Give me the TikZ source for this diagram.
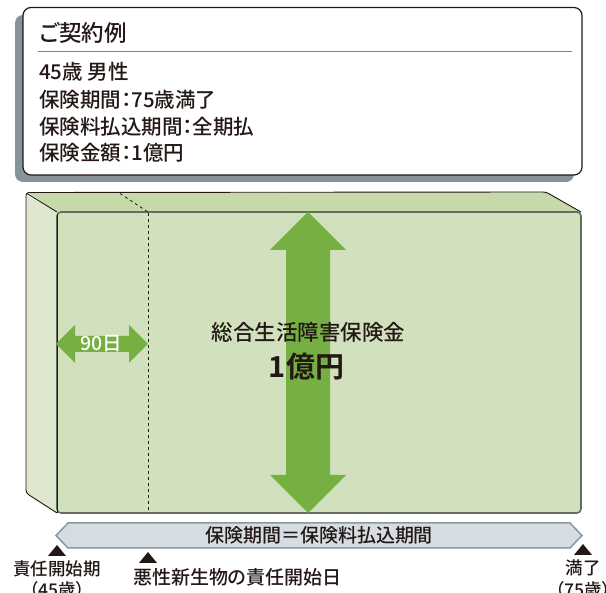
\documentclass[tikz,border=0pt]{standalone}
\usepackage{fontspec}
\setmainfont{Noto Sans CJK JP}[RawFeature=+palt, UprightFont={* Medium}, BoldFont={* Bold}]
\usetikzlibrary{positioning}
\definecolor{inktext}{HTML}{231815}
\definecolor{shadowgray}{HTML}{85939B}
\definecolor{topgreen}{HTML}{C5D9A9}
\definecolor{sidegreen}{HTML}{DDE8CF}
\definecolor{frontgreen}{HTML}{D2E1BD}
\definecolor{edgegreen}{HTML}{646D60}
\definecolor{arrowgreen}{HTML}{76B043}
\definecolor{barfill}{HTML}{D6DDE2}
\definecolor{barline}{HTML}{8C979D}
\tikzset{
	infoline/.style={anchor=west, inner sep=0pt, font=\fontsize{20.5}{21}\selectfont},
	marklabel/.style={inner sep=0pt, font=\fontsize{17.5}{18}\selectfont},
	marker/.style={fill=inktext}
}
\begin{document}
\begin{tikzpicture}[x=1pt, y=-1pt, text=inktext]
	\useasboundingbox (0,0) rectangle (606,593);
	\fill[shadowgray, rounded corners=8pt] (15,15) rectangle (574,182);
	\draw[fill=white, rounded corners=8pt, line width=1.2pt, draw=inktext] (23,7.5) rectangle (582,175);
	\node[infoline, font=\fontsize{22.5}{23}\selectfont] (title) at (39,33) {ご契約例};
	\draw[line width=1pt, draw=gray] (38,52) -- (572,52);
	\node[infoline] (age) at (39,72) {45歳 男性};
	\node[infoline] (term) at (39,99.5) {保険期間：75歳満了};
	\node[infoline] (payterm) at (39,126.5) {保険料払込期間：全期払};
	\node[infoline] (amount) at (39,153) {保険金額：1億円};

	\fill[topgreen] (28,192.5) -- (546,192) -- (581,212) -- (57,212) -- cycle;
	\fill[sidegreen] (26,195) -- (57,212) -- (57,513) -- (26,493) -- cycle;
	\draw[line width=0.9pt, draw=inktext, rounded corners=3pt] (57,513) -- (26,493) -- (26,192.5) -- (546,192) -- (581,212);
	\draw[line width=0.9pt, draw=inktext] (27,193.5) -- (57,212);
	\draw[fill=frontgreen, draw=edgegreen, line width=1.6pt, rounded corners=4pt] (57,212) rectangle (581,513);
	\draw[line width=0.9pt, draw=inktext] (57,214) -- (57,513);
	\draw[dashed, line width=0.8pt, draw=inktext] (148,213) -- (148,512);
	\draw[dashed, line width=0.8pt, draw=inktext] (120,193.5) -- (148,212);

	\fill[arrowgreen] (308,212) -- (346,250) -- (330,250) -- (330,475) -- (346,475) -- (308,513) -- (270,475) -- (286,475) -- (286,250) -- (270,250) -- cycle;
	\node[inner sep=0pt, font=\fontsize{21.5}{22}\selectfont] (benefit) at (308.5,332) {総合生活障害保険金};
	\node[inner sep=0pt, font=\bfseries\fontsize{29}{29}\selectfont] (benefitsum) at (306.5,367) {1億円};

	\fill[arrowgreen] (56,344) -- (75,325) -- (75,336) -- (129,336) -- (129,325) -- (148,344) -- (129,363) -- (129,352) -- (75,352) -- (75,363) -- cycle;
	\node[inner sep=0pt, text=white, font=\fontsize{19.5}{20}\selectfont] (waiting) at (101.5,344) {90日};

	\draw[fill=barfill, draw=barline, line width=1.5pt] (56,535.5) -- (68,523) -- (570,523) -- (582,535.5) -- (570,548) -- (68,548) -- cycle;
	\node[inner sep=0pt, font=\fontsize{19}{19}\selectfont] (period) at (319,535.5) {保険期間＝保険料払込期間};

	\fill[marker] (48,556) -- (66,556) -- (57,545) -- cycle;
	\fill[marker] (139,563) -- (157,563) -- (148,552) -- cycle;
	\fill[marker] (574,555) -- (592,555) -- (583,544) -- cycle;
	\node[marklabel] (start) at (57,569) {責任開始期};
	\node[marklabel] (startage) at (57,590) {（45歳）};
	\node[marklabel, anchor=west, font=\fontsize{19}{19}\selectfont] (cancer) at (133,577) {悪性新生物の責任開始日};
	\node[marklabel] (expiry) at (583,568) {満了};
	\node[marklabel] (expiryage) at (583,590) {（75歳）};
\end{tikzpicture}
\end{document}
